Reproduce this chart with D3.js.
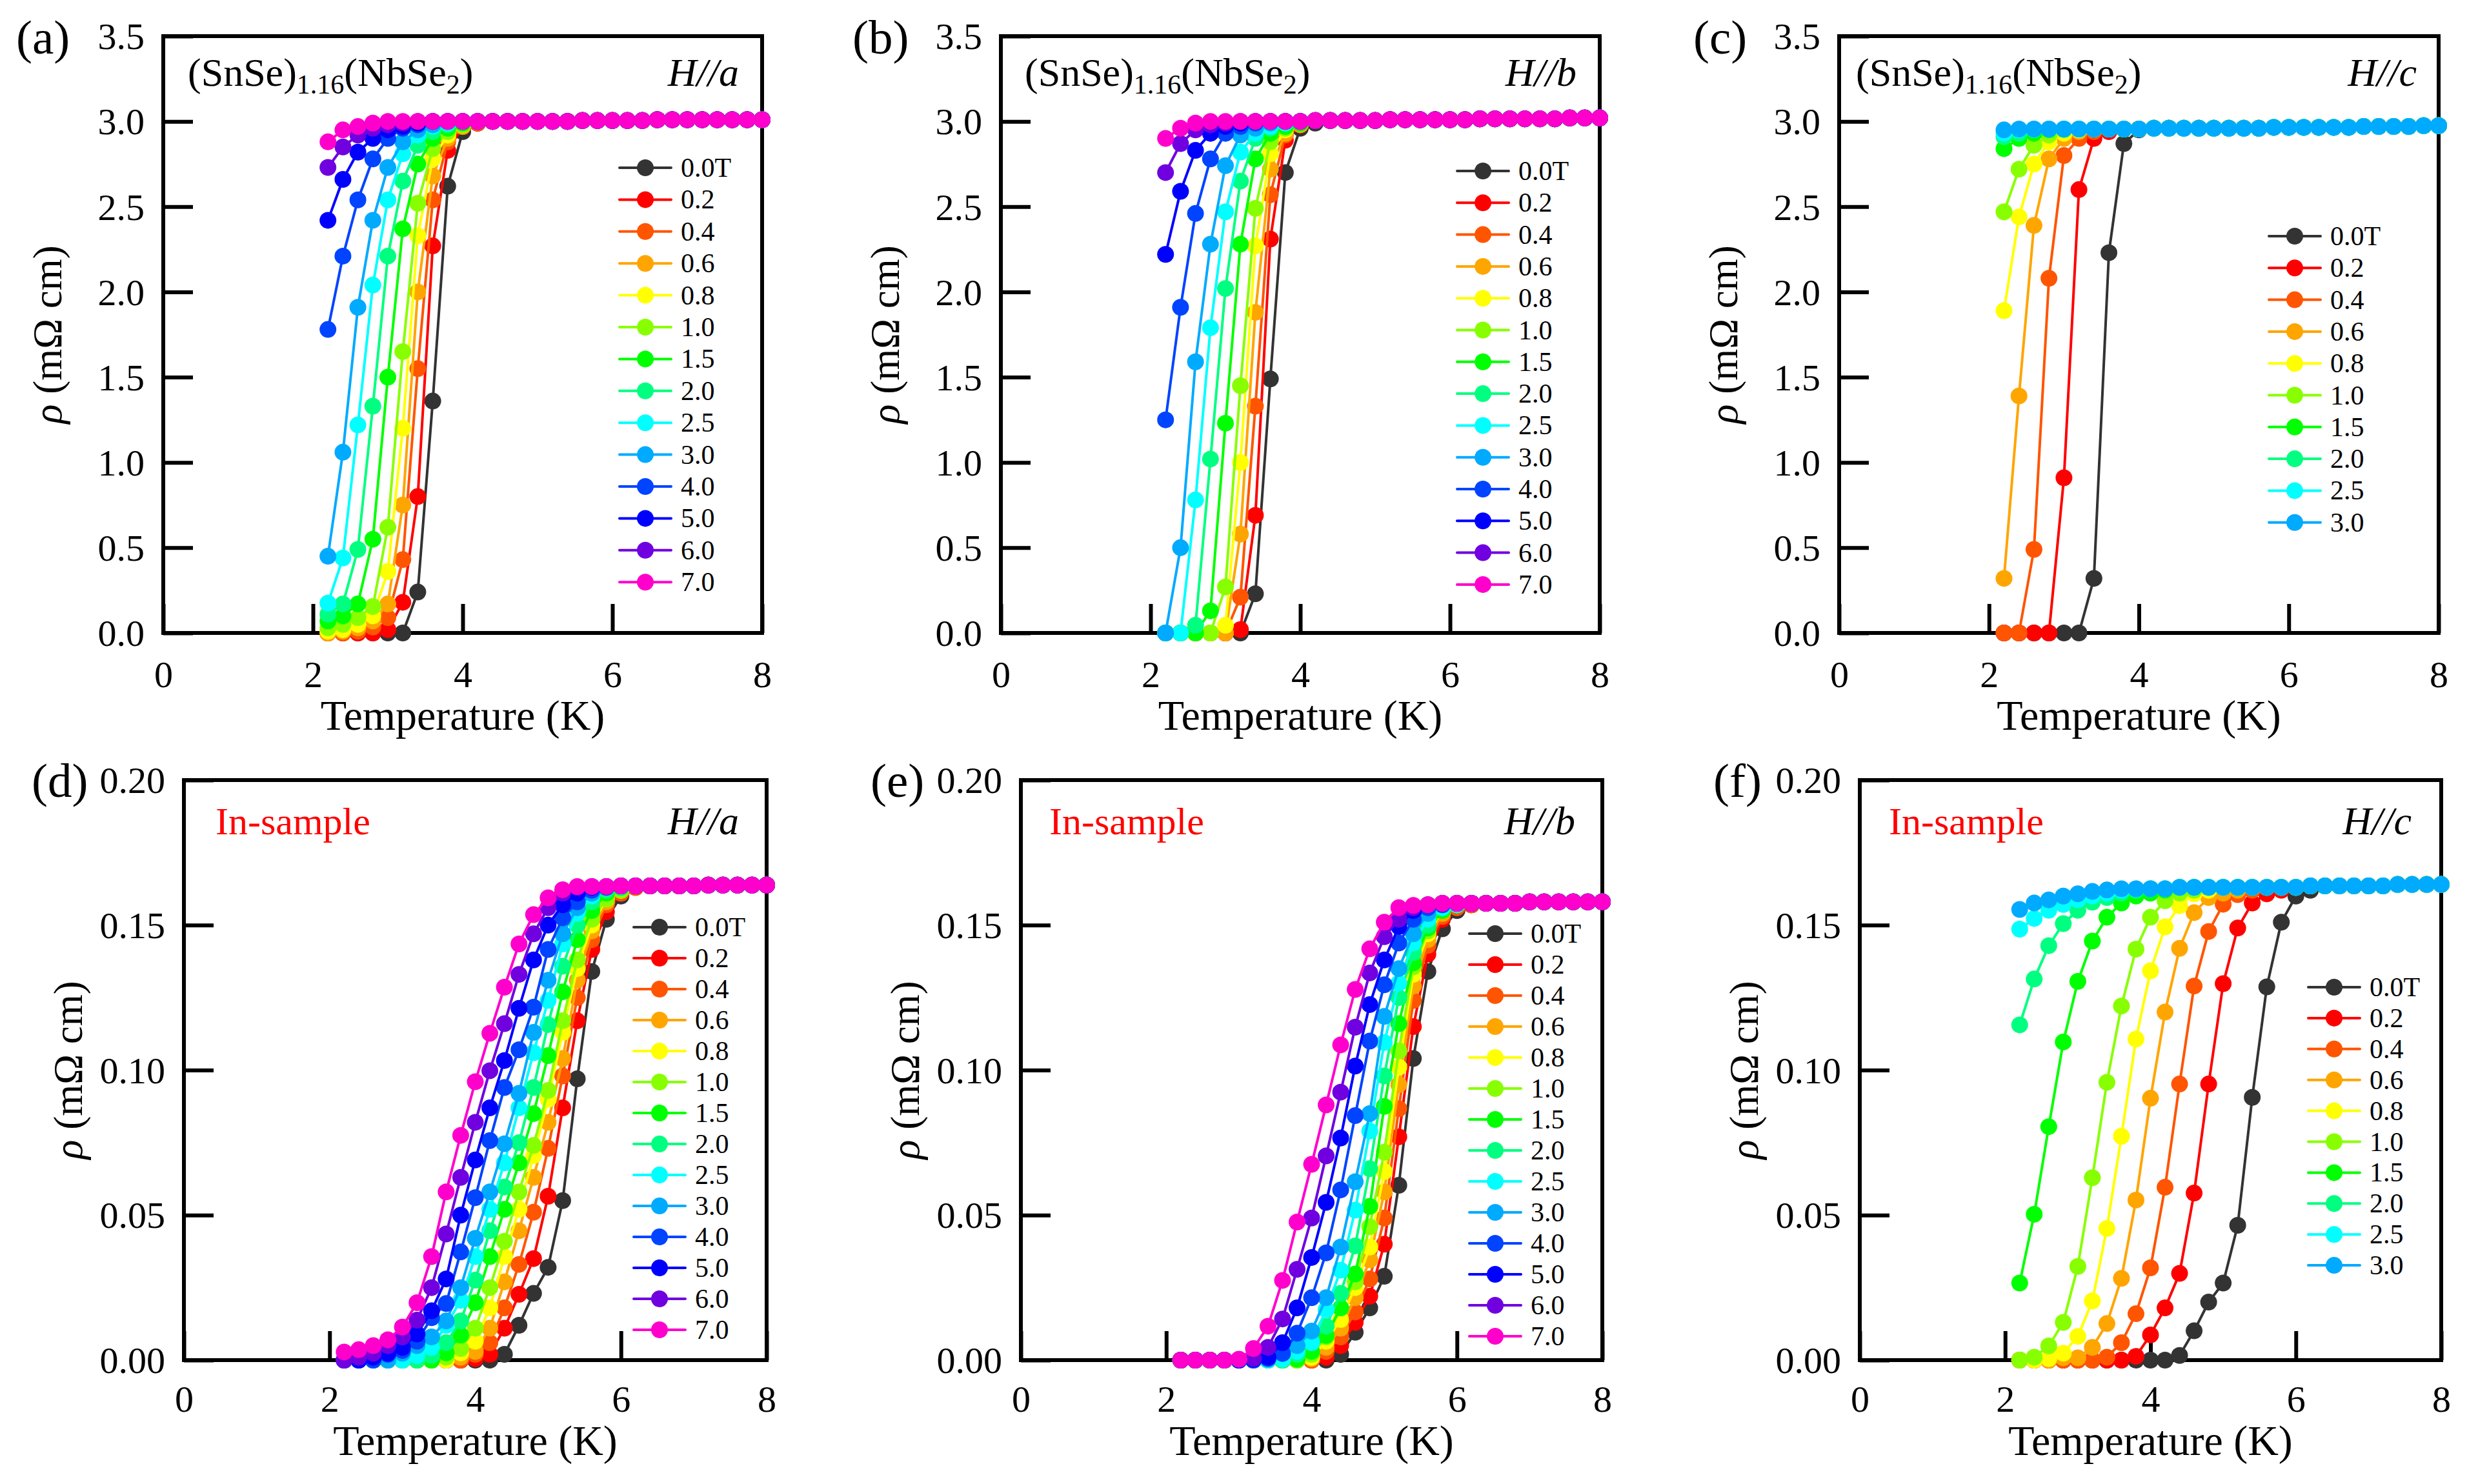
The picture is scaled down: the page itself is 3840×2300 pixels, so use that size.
<!DOCTYPE html>
<html>
<head>
<meta charset="utf-8">
<script src="https://cdn.jsdelivr.net/npm/d3@7"></script>
<style>
  html, body { margin: 0; padding: 0; background: #ffffff; }
  svg { display: block; }
  svg text { font-family: "Liberation Serif", "Times New Roman", "DejaVu Serif", serif; }
</style>
</head>
<body>
<svg id="chart" width="3840" height="2300"></svg>
<script>
// ---------------- DATA ----------------
const temps = [2.2,2.4,2.6,2.8,3.0,3.2,3.4,3.6,3.8,4.0,4.2,4.4,4.6,4.8,5.0,5.2,5.4,5.6,5.8,6.0,6.2,6.4,6.6,6.8,7.0,7.2,7.4,7.6,7.8,8.0];

const fields14 = ["0.0T","0.2","0.4","0.6","0.8","1.0","1.5","2.0","2.5","3.0","4.0","5.0","6.0","7.0"];
const fields10 = ["0.0T","0.2","0.4","0.6","0.8","1.0","1.5","2.0","2.5","3.0"];
const fieldColors = ["#333333","#ff0000","#ff5500","#ffa500","#ffff00","#88ff00","#00ff00","#00ff80","#00ffff","#00aaff","#0044ff","#0000ff","#7000e0","#ff00cc"];

const xTicks = [0,2,4,6,8];
const yTicksTop = [0,0.5,1.0,1.5,2.0,2.5,3.0,3.5];
const yTicksBottom = [0,0.05,0.10,0.15,0.20];

// normal-state plateau (all fields overlap), read at each temperature
const plateauA = [3.0,3.0,3.0,3.0,3.0,3.0,3.0,3.0,3.0,3.0,3.0,3.0,3.0,3.0,3.0,3.0,3.0,3.005,3.005,3.005,3.005,3.005,3.01,3.01,3.01,3.01,3.01,3.01,3.01,3.01];
const plateauB = [3.0,3.0,3.0,3.0,3.0,3.0,3.0,3.0,3.0,3.0,3.005,3.005,3.005,3.005,3.005,3.01,3.01,3.01,3.01,3.01,3.01,3.015,3.015,3.015,3.015,3.015,3.015,3.02,3.02,3.02];
const plateauC = [2.955,2.955,2.955,2.955,2.955,2.955,2.955,2.955,2.955,2.955,2.96,2.96,2.96,2.96,2.96,2.96,2.96,2.96,2.965,2.965,2.965,2.965,2.965,2.965,2.97,2.97,2.97,2.97,2.975,2.975];
const plateauD = [0.1633,0.1633,0.1633,0.1633,0.1633,0.1633,0.1633,0.1633,0.1633,0.1633,0.1633,0.1633,0.1633,0.1633,0.1633,0.1633,0.1633,0.1633,0.1633,0.1635,0.1635,0.1635,0.1635,0.1635,0.1635,0.1638,0.1638,0.1638,0.1638,0.1638];
const plateauE = [0.1572,0.1572,0.1572,0.1572,0.1572,0.1572,0.1572,0.1572,0.1572,0.1572,0.1572,0.1572,0.1572,0.1572,0.1572,0.1572,0.1572,0.1572,0.1575,0.1575,0.1575,0.1575,0.1575,0.1575,0.158,0.158,0.158,0.158,0.158,0.158];
const plateauF = [0.1625,0.1625,0.1625,0.1625,0.1625,0.1625,0.1625,0.1625,0.1625,0.1625,0.1625,0.163,0.163,0.163,0.163,0.163,0.163,0.163,0.163,0.163,0.1635,0.1635,0.1635,0.1635,0.1635,0.1635,0.164,0.164,0.164,0.164];

// transition part of each curve, from T = 2.2 K upward (rest follows the plateau)
const rhoA = [
  [0,0,0,0,0,0,0.24,1.36,2.62,2.94,2.99],
  [0,0,0,0,0.02,0.18,0.80,2.27,2.83,2.97,2.99],
  [0,0,0.01,0.035,0.09,0.43,1.55,2.54,2.88,2.97,2.99],
  [0,0.01,0.03,0.07,0.17,0.75,2.0,2.68,2.90,2.97],
  [0.01,0.02,0.05,0.10,0.36,1.20,2.33,2.78,2.92,2.98],
  [0.03,0.05,0.09,0.155,0.62,1.65,2.52,2.84,2.94,2.98],
  [0.07,0.10,0.17,0.55,1.50,2.37,2.75,2.90,2.96,2.99],
  [0.11,0.17,0.49,1.33,2.21,2.65,2.86,2.94,2.98],
  [0.175,0.44,1.22,2.04,2.54,2.81,2.92,2.97,2.99],
  [0.45,1.06,1.91,2.42,2.73,2.88,2.95,2.98],
  [1.78,2.21,2.54,2.78,2.90,2.96,2.98],
  [2.42,2.66,2.82,2.90,2.95,2.97,2.99],
  [2.73,2.85,2.92,2.96,2.98,2.99],
  [2.88,2.95,2.97,2.99,3.0]
];
const rhoB = [
  [0,0,0,0,0,0,0.23,1.49,2.70,2.96,2.99],
  [0,0,0,0,0,0.02,0.69,2.31,2.89,2.98],
  [0,0,0,0,0,0.21,1.33,2.57,2.92,2.98],
  [0,0,0,0,0,0.58,1.88,2.72,2.93,2.98],
  [0,0,0,0,0.045,1.0,2.27,2.81,2.95,2.99],
  [0,0,0,0,0.27,1.45,2.49,2.88,2.96,2.99],
  [0,0,0,0.13,1.23,2.28,2.78,2.93,2.97,2.99],
  [0,0,0.045,1.02,2.02,2.65,2.90,2.96,2.99],
  [0,0,0.78,1.79,2.47,2.82,2.93,2.97,2.99],
  [0,0.50,1.59,2.28,2.74,2.92,2.96,2.99],
  [1.25,1.91,2.46,2.78,2.93,2.97,2.99],
  [2.22,2.59,2.83,2.93,2.97,2.99],
  [2.70,2.87,2.95,2.98,2.99],
  [2.90,2.96,2.99,3.0]
];
const rhoC = [
  [0,0,0,0,0,0,0.32,2.23,2.87,2.95],
  [0,0,0,0,0.91,2.60,2.90,2.94],
  [0,0,0.49,2.08,2.80,2.90,2.94],
  [0.32,1.39,2.39,2.78,2.90,2.94],
  [1.89,2.44,2.75,2.88,2.93,2.95],
  [2.47,2.72,2.86,2.92,2.95],
  [2.84,2.90,2.93,2.95],
  [2.91,2.93,2.95],
  [2.93,2.95],
  [2.95]
];
const rhoD = [
  [0,0,0,0,0,0,0,0,0,0,0,0.002,0.012,0.023,0.032,0.055,0.097,0.134,0.152,0.160,0.163],
  [0,0,0,0,0,0,0,0,0,0.0005,0.002,0.011,0.0227,0.035,0.0565,0.087,0.117,0.1416,0.1546,0.161,0.163],
  [0,0,0,0,0,0,0,0,0,0.002,0.006,0.018,0.033,0.051,0.073,0.098,0.125,0.145,0.157,0.161,0.163],
  [0,0,0,0,0,0,0,0,0.001,0.003,0.011,0.027,0.0446,0.063,0.082,0.104,0.131,0.148,0.158,0.162],
  [0,0,0,0,0,0,0,0,0.0025,0.0065,0.018,0.0357,0.052,0.0705,0.09,0.113,0.135,0.150,0.159,0.162],
  [0,0,0,0,0,0,0,0.001,0.004,0.011,0.025,0.041,0.058,0.074,0.093,0.117,0.138,0.152,0.159,0.162],
  [0,0,0,0,0,0,0,0.0025,0.0086,0.0198,0.0357,0.052,0.068,0.085,0.105,0.127,0.145,0.155,0.161,0.163],
  [0,0,0,0,0,0,0.0016,0.006,0.0135,0.0276,0.0446,0.0597,0.075,0.094,0.1157,0.1358,0.150,0.158,0.162,0.163],
  [0,0,0,0,0,0.0016,0.0044,0.012,0.0206,0.0357,0.052,0.068,0.087,0.106,0.124,0.1435,0.154,0.160,0.163],
  [0,0,0,0,0.0024,0.005,0.008,0.0135,0.025,0.042,0.058,0.0746,0.092,0.113,0.131,0.147,0.156,0.161,0.163],
  [0,0,0,0.002,0.0033,0.0065,0.0146,0.0195,0.0373,0.056,0.0757,0.094,0.107,0.1217,0.1416,0.1525,0.158,0.162,0.163],
  [0,0,0.001,0.0024,0.0044,0.009,0.017,0.028,0.05,0.069,0.087,0.1033,0.1213,0.138,0.15,0.157,0.161,0.163],
  [0,0.001,0.0024,0.005,0.008,0.0138,0.025,0.0435,0.063,0.082,0.0998,0.116,0.133,0.147,0.156,0.161,0.163],
  [0.0028,0.0036,0.005,0.007,0.0114,0.0198,0.0357,0.058,0.0775,0.096,0.1127,0.1286,0.1435,0.1536,0.1594,0.1622,0.1633]
];
const rhoE = [
  [0,0,0,0,0,0,0,0,0,0,0,0.002,0.0096,0.018,0.0289,0.0603,0.104,0.134,0.1487,0.155,0.157],
  [0,0,0,0,0,0,0,0,0,0,0.001,0.005,0.013,0.022,0.040,0.077,0.115,0.14,0.152,0.156,0.157],
  [0,0,0,0,0,0,0,0,0,0,0.003,0.008,0.0166,0.028,0.049,0.0867,0.124,0.143,0.153,0.156,0.157],
  [0,0,0,0,0,0,0,0,0,0.0005,0.0044,0.011,0.0215,0.0346,0.058,0.095,0.129,0.145,0.154,0.157],
  [0,0,0,0,0,0,0,0,0,0.001,0.0065,0.014,0.025,0.039,0.065,0.101,0.133,0.147,0.155,0.157],
  [0,0,0,0,0,0,0,0,0,0.002,0.008,0.018,0.027,0.046,0.0717,0.1066,0.1356,0.148,0.155,0.157],
  [0,0,0,0,0,0,0,0,0.0003,0.003,0.0085,0.018,0.0297,0.053,0.0875,0.116,0.137,0.149,0.155,0.157],
  [0,0,0,0,0,0,0,0,0.002,0.007,0.0117,0.023,0.0394,0.066,0.098,0.125,0.1405,0.15,0.156,0.157],
  [0,0,0,0,0,0,0,0.0003,0.003,0.006,0.0174,0.031,0.0517,0.079,0.1095,0.13,0.1438,0.152,0.156,0.157],
  [0,0,0,0,0,0,0.0003,0.003,0.005,0.010,0.0215,0.039,0.0615,0.085,0.1185,0.135,0.147,0.154,0.157],
  [0,0,0,0,0,0,0.0006,0.0023,0.0093,0.0215,0.037,0.0587,0.0843,0.11,0.1294,0.1438,0.152,0.156,0.157],
  [0,0,0,0,0,0.0003,0.001,0.006,0.018,0.0354,0.0544,0.0766,0.1014,0.1226,0.138,0.1495,0.155,0.157],
  [0,0,0,0,0.0003,0.0006,0.0044,0.0142,0.0313,0.049,0.0704,0.0924,0.1148,0.1335,0.146,0.152,0.156,0.157],
  [0,0,0,0,0.0003,0.004,0.0117,0.0275,0.0476,0.0675,0.088,0.1087,0.1278,0.1418,0.151,0.156,0.1568,0.157]
];
const rhoF = [
  [0,0,0,0,0,0,0,0,0,0,0,0.0016,0.0101,0.020,0.0266,0.0465,0.0906,0.1287,0.151,0.16,0.162],
  [0,0,0,0,0,0,0,0,0.0013,0.0087,0.018,0.0299,0.0576,0.0952,0.1298,0.149,0.1576,0.1608,0.162],
  [0,0,0,0,0,0,0.001,0.006,0.016,0.0318,0.0596,0.0952,0.129,0.1478,0.1572,0.1605,0.162],
  [0,0,0,0.0008,0.0008,0.0044,0.0126,0.0282,0.0552,0.0903,0.12,0.142,0.1543,0.1595,0.161,0.162],
  [0,0,0.0005,0.0024,0.0082,0.0204,0.0454,0.0772,0.1107,0.1342,0.1494,0.1567,0.1608,0.162],
  [0,0.001,0.0049,0.013,0.0323,0.0629,0.0958,0.1221,0.1417,0.1527,0.1584,0.161,0.162],
  [0.0266,0.0503,0.0805,0.1097,0.1306,0.1445,0.1527,0.1576,0.16,0.161,0.162],
  [0.1156,0.1314,0.1429,0.1505,0.1551,0.1579,0.1595,0.161,0.162],
  [0.1486,0.1523,0.1551,0.1571,0.1587,0.160,0.161,0.162],
  [0.1554,0.1576,0.1587,0.16,0.1608,0.1616,0.1621,0.1625]
];

// ---------------- LAYOUT ----------------
const FONT = '"Liberation Serif", "Times New Roman", "DejaVu Serif", serif';
const panels = [
  {tag:"(a)", rho:rhoA, plateau:plateauA, fields:fields14, x0:253,  x1:1181, y0:56,   y1:981,  ymax:3.5, yt:yTicksTop, fmt:".1f",
   lab:[25,83], leg:[1000,260,49.4], kind:"formula", axis:"a", noteX:38, noteY:133, hRight:36, xPad:43, titleY:1131},
  {tag:"(b)", rho:rhoB, plateau:plateauB, fields:fields14, x0:1551, x1:2479, y0:56,   y1:981,  ymax:3.5, yt:yTicksTop, fmt:".1f",
   lab:[1321,83], leg:[2298,265,49.3], kind:"formula", axis:"b", noteX:37, noteY:133, hRight:36, xPad:43, titleY:1131},
  {tag:"(c)", rho:rhoC, plateau:plateauC, fields:fields10, x0:2850, x1:3779, y0:56,   y1:981,  ymax:3.5, yt:yTicksTop, fmt:".1f",
   lab:[2624,83], leg:[3556,366,49.3], kind:"formula", axis:"c", noteX:26, noteY:133, hRight:34, xPad:43, titleY:1131},
  {tag:"(d)", rho:rhoD, plateau:plateauD, fields:fields14, x0:285,  x1:1188, y0:1209, y1:2108, ymax:0.20, yt:yTicksBottom, fmt:".2f",
   lab:[49,1235], leg:[1022,1437,48.0], kind:"insample", axis:"a", noteX:49, noteY:1293, hRight:43, xPad:39, titleY:2255},
  {tag:"(e)", rho:rhoE, plateau:plateauE, fields:fields14, x0:1582, x1:2483, y0:1209, y1:2108, ymax:0.20, yt:yTicksBottom, fmt:".2f",
   lab:[1349,1235], leg:[2317,1447,48.0], kind:"insample", axis:"b", noteX:44, noteY:1293, hRight:42, xPad:39, titleY:2255},
  {tag:"(f)", rho:rhoF, plateau:plateauF, fields:fields10, x0:2882, x1:3783, y0:1209, y1:2108, ymax:0.20, yt:yTicksBottom, fmt:".2f",
   lab:[2655,1235], leg:[3617,1530,47.9], kind:"insample", axis:"c", noteX:45, noteY:1293, hRight:46, xPad:39, titleY:2255}
];

const svg = d3.select("#chart");
svg.append("rect").attr("width",3840).attr("height",2300).attr("fill","#ffffff");

function txt(sel) { return sel.style("font-family", FONT).attr("fill", "#000"); }

panels.forEach(p => {
  const x = d3.scaleLinear().domain([0,8]).range([p.x0, p.x1]);
  const y = d3.scaleLinear().domain([0,p.ymax]).range([p.y1, p.y0]);
  const g = svg.append("g");

  // frame
  g.append("rect").attr("x",p.x0).attr("y",p.y0).attr("width",p.x1-p.x0).attr("height",p.y1-p.y0)
    .attr("fill","none").attr("stroke","#000").attr("stroke-width",6);

  // y axis (inward ticks)
  const ya = g.append("g").attr("transform",`translate(${p.x0},0)`)
    .call(d3.axisLeft(y).tickValues(p.yt).tickFormat(d3.format(p.fmt)).tickSize(-46).tickPadding(29));
  ya.attr("font-family", null).attr("font-size", null);
  ya.select(".domain").remove();
  ya.selectAll(".tick line").attr("stroke","#000").attr("stroke-width",6);
  txt(ya.selectAll(".tick text")).style("font-size","58px").attr("dy","0.34em");

  // x axis (inward ticks)
  const xa = g.append("g").attr("transform",`translate(0,${p.y1})`)
    .call(d3.axisBottom(x).tickValues(xTicks).tickFormat(d3.format("d")).tickSize(-45).tickPadding(p.xPad));
  xa.attr("font-family", null).attr("font-size", null);
  xa.select(".domain").remove();
  xa.selectAll(".tick line").attr("stroke","#000").attr("stroke-width",6);
  txt(xa.selectAll(".tick text")).style("font-size","58px").attr("dy","0.71em");

  // axis titles
  txt(g.append("text")).attr("x",(p.x0+p.x1)/2).attr("y",p.titleY).attr("text-anchor","middle")
    .style("font-size","66px").text("Temperature (K)");
  const yt = txt(g.append("text"))
    .attr("transform",`translate(${p.x0-158},${(p.y0+p.y1)/2}) rotate(-90)`)
    .attr("text-anchor","middle").style("font-size","63px");
  yt.append("tspan").style("font-style","italic").text("ρ");
  yt.append("tspan").text(" (mΩ cm)");

  // panel tag
  txt(g.append("text")).attr("x",p.lab[0]).attr("y",p.lab[1]).style("font-size","75px").text(p.tag);

  // annotations
  if (p.kind === "formula") {
    const t = txt(g.append("text")).attr("x",p.x0+p.noteX).attr("y",p.noteY).style("font-size","62px");
    t.append("tspan").text("(SnSe)");
    t.append("tspan").style("font-size","42px").attr("dy",12).text("1.16");
    t.append("tspan").attr("dy",-12).text("(NbSe");
    t.append("tspan").style("font-size","42px").attr("dy",12).text("2");
    t.append("tspan").attr("dy",-12).text(")");
  } else {
    g.append("text").style("font-family",FONT).attr("x",p.x0+p.noteX).attr("y",p.noteY).style("font-size","60px")
      .attr("fill","#ff0000").text("In-sample");
  }
  txt(g.append("text")).attr("x",p.x1-p.hRight).attr("y",p.noteY).attr("text-anchor","end")
    .style("font-size","62px").style("font-style","italic").text("H//" + p.axis);

  // data curves
  const line = d3.line().x(d => x(d[0])).y(d => y(d[1]));
  p.rho.forEach((vals, si) => {
    const full = temps.map((t,i) => [t, i < vals.length ? vals[i] : p.plateau[i]]);
    const col = fieldColors[si];
    const sg = g.append("g");
    sg.append("path").datum(full).attr("d",line).attr("fill","none").attr("stroke",col)
      .attr("stroke-width",4).attr("stroke-linejoin","round");
    sg.selectAll("circle").data(full).join("circle")
      .attr("cx",d => x(d[0])).attr("cy",d => y(d[1])).attr("r",13).attr("fill",col);
  });

  // legend
  const [cx, ly, dy] = p.leg;
  p.fields.forEach((f, i) => {
    const yy = ly + i*dy;
    const lg = g.append("g");
    lg.append("line").attr("x1",cx-40).attr("x2",cx+40).attr("y1",yy).attr("y2",yy)
      .attr("stroke",fieldColors[i]).attr("stroke-width",4).attr("stroke-linecap","round");
    lg.append("circle").attr("cx",cx).attr("cy",yy).attr("r",13).attr("fill",fieldColors[i]);
    txt(lg.append("text")).attr("x",cx+55).attr("y",yy+14).style("font-size","42px").text(f);
  });
});
</script>
</body>
</html>
